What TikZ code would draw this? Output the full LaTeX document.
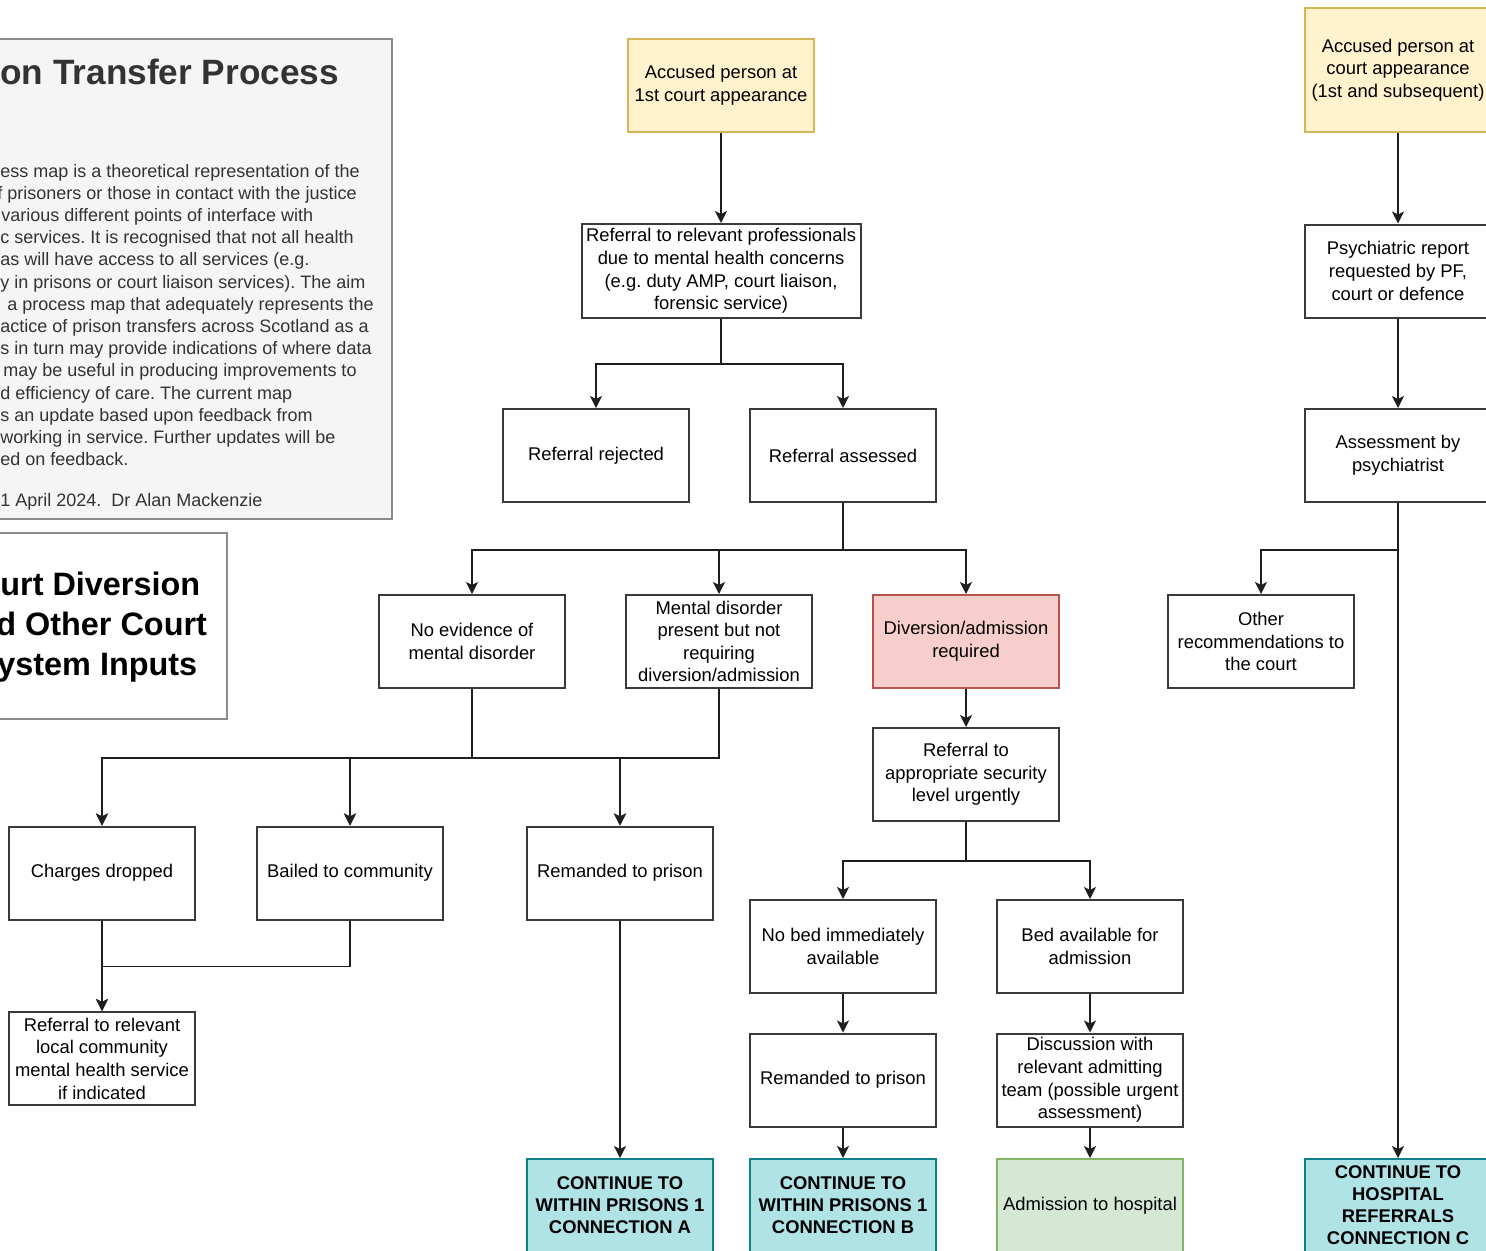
\documentclass[tikz,border=0pt]{standalone}
\usepackage{fontspec}
\setmainfont{Liberation Sans}
\usetikzlibrary{arrows.meta}
\definecolor{boxline}{HTML}{3A3A3A}
\definecolor{edgeline}{HTML}{1E1E1E}
\definecolor{panelfill}{HTML}{F5F5F5}
\definecolor{panelline}{HTML}{8A8A8A}
\definecolor{paneltext}{HTML}{333333}
\definecolor{startfill}{HTML}{FFF2CC}
\definecolor{startline}{HTML}{D6B656}
\definecolor{divfill}{HTML}{F8CECC}
\definecolor{divline}{HTML}{B85450}
\definecolor{contfill}{HTML}{B0E3E6}
\definecolor{contline}{HTML}{0E8088}
\definecolor{admfill}{HTML}{D5E8D4}
\definecolor{admline}{HTML}{82B366}
\frenchspacing

\begin{document}
\begin{tikzpicture}[x=0.5pt,y=-0.5pt,
  box/.style={draw=boxline, line width=1pt, fill=white, align=center,
    inner sep=1pt, minimum width=93pt, minimum height=46.5pt,
    font=\fontsize{9.2}{11.3}\selectfont, text=black},
  startbox/.style={box, fill=startfill, draw=startline},
  divbox/.style={box, fill=divfill, draw=divline},
  contbox/.style={box, fill=contfill, draw=contline,
    font=\fontsize{9.2}{11}\selectfont\bfseries},
  admbox/.style={box, fill=admfill, draw=admline},
  arr/.style={draw=edgeline, line width=0.95pt,
    -{Stealth[length=6pt,width=6pt,inset=1.5pt]}},
  bodyline/.style={anchor=base west, inner sep=0pt, text=paneltext,
    font=\fontsize{9}{11}\selectfont},
  bigtitle/.style={anchor=base west, inner sep=0pt, text=paneltext,
    font=\fontsize{17.6}{20}\selectfont\bfseries},
  subtitle/.style={anchor=base west, inner sep=0pt, text=black,
    font=\fontsize{16.2}{20}\selectfont\bfseries},
]
\useasboundingbox (0,0) rectangle (1486,1250);
\clip (0,0) rectangle (1486,1250);
\fill[white] (0,0) rectangle (1486,1250);

% ---- Left-hand panels ----
\draw[fill=panelfill, draw=panelline, line width=1pt] (-20,39) rectangle (392,519);
\node[bigtitle] (ttl) at (0,84) {on Transfer Process};
\node[bodyline] (t1) at (0,177.0) {ess map is a theoretical representation of the};
\node[bodyline] (t2) at (-3,199.2) {f prisoners or those in contact with the justice};
\node[bodyline] (t3) at (1,221.4) {various different points of interface with};
\node[bodyline] (t4) at (0,243.6) {c services. It is recognised that not all health};
\node[bodyline] (t5) at (0,265.8) {as will have access to all services (e.g.};
\node[bodyline] (t6) at (0,288.0) {y in prisons or court liaison services). The aim};
\node[bodyline] (t7) at (7,310.2) {a process map that adequately represents the};
\node[bodyline] (t8) at (0,332.4) {actice of prison transfers across Scotland as a};
\node[bodyline] (t9) at (0,354.6) {s in turn may provide indications of where data};
\node[bodyline] (t10) at (3,376.8) {may be useful in producing improvements to};
\node[bodyline] (t11) at (0,399.0) {d efficiency of care. The current map};
\node[bodyline] (t12) at (0,421.2) {s an update based upon feedback from};
\node[bodyline] (t13) at (0,443.4) {working in service. Further updates will be};
\node[bodyline] (t14) at (0,465.6) {ed on feedback.};
\node[bodyline] (t15) at (0,506.5) {1 April 2024.\ \ Dr Alan Mackenzie};

\draw[fill=white, draw=panelline, line width=1pt] (-20,533) rectangle (227,719);
\node[subtitle] (s1) at (0,595) {urt Diversion};
\node[subtitle] (s2) at (-4,635) {d Other Court};
\node[subtitle] (s3) at (-3,675) {ystem Inputs};

% ---- First court appearance route ----
\node[startbox] (acc1) at (721,85.5) {Accused person at\\1st court appearance};
\node[box, minimum width=139.5pt, minimum height=47pt] (refp) at (721,271)
  {Referral to relevant professionals\\due to mental health concerns\\(e.g. duty AMP, court liaison,\\forensic service)};
\node[box] (rej) at (596,455.5) {Referral rejected};
\node[box] (ass) at (843,455.5) {Referral assessed};
\node[box] (noev) at (472,641.5) {No evidence of\\mental disorder};
\node[box] (ment) at (719,641.5) {Mental disorder\\present but not\\requiring\\diversion/admission};
\node[divbox] (div) at (966,641.5) {Diversion/admission\\required};
\node[box] (sec) at (966,774.5) {Referral to\\appropriate security\\level urgently};
\node[box] (nobed) at (843,946.5) {No bed immediately\\available};
\node[box] (bed) at (1090,946.5) {Bed available for\\admission};
\node[box] (rem2) at (843,1080) {Remanded to prison};
\node[box] (disc) at (1090,1080) {Discussion with\\relevant admitting\\team (possible urgent\\assessment)};
\node[box] (chg) at (102,873) {Charges dropped};
\node[box] (bail) at (350,873) {Bailed to community};
\node[box] (rem1) at (620,873) {Remanded to prison};
\node[box] (lcmh) at (102,1058.5) {Referral to relevant\\local community\\mental health service\\if indicated};
\node[contbox] (contA) at (620,1205.5) {CONTINUE TO\\WITHIN PRISONS 1\\CONNECTION A};
\node[contbox] (contB) at (843,1205.5) {CONTINUE TO\\WITHIN PRISONS 1\\CONNECTION B};
\node[admbox] (adm) at (1090,1205.5) {Admission to hospital};

% ---- Court reports route ----
\node[startbox, minimum height=62pt] (acc2) at (1398,70) {Accused person at\\court appearance\\(1st and subsequent)};
\node[box] (psy) at (1398,271) {Psychiatric report\\requested by PF,\\court or defence};
\node[box] (asp) at (1398,455.5) {Assessment by\\psychiatrist};
\node[box] (oth) at (1261,641.5) {Other\\recommendations to\\the court};
\node[contbox] (contC) at (1398,1205.5) {CONTINUE TO\\HOSPITAL\\REFERRALS\\CONNECTION C};

% ---- Connectors ----
\draw[arr] (acc1) -- (refp);
\draw[arr] (refp.south) -- ++(0,45) -| (rej.north);
\draw[arr] (refp.south) -- ++(0,45) -| (ass.north);
\draw[arr] (ass.south) -- ++(0,47) -| (noev.north);
\draw[arr] (ass.south) -- ++(0,47) -| (ment.north);
\draw[arr] (ass.south) -- ++(0,47) -| (div.north);
\draw[arr] (div) -- (sec);
\draw[arr] (sec.south) -- ++(0,39) -| (nobed.north);
\draw[arr] (sec.south) -- ++(0,39) -| (bed.north);
\draw[arr] (nobed) -- (rem2);
\draw[arr] (rem2) -- (contB);
\draw[arr] (bed) -- (disc);
\draw[arr] (disc) -- (adm);
\foreach \src in {noev,ment}{
  \draw[arr] (\src.south) -- ++(0,69) -| (chg.north);
  \draw[arr] (\src.south) -- ++(0,69) -| (bail.north);
  \draw[arr] (\src.south) -- ++(0,69) -| (rem1.north);
}
\draw[arr] (chg) -- (lcmh);
\draw[arr] (bail.south) -- ++(0,46) -| (lcmh.north);
\draw[arr] (rem1) -- (contA);
\draw[arr] (acc2) -- (psy);
\draw[arr] (psy) -- (asp);
\draw[arr] (asp.south) -- ++(0,47) -| (oth.north);
\draw[arr] (asp) -- (contC);
\end{tikzpicture}
\end{document}
